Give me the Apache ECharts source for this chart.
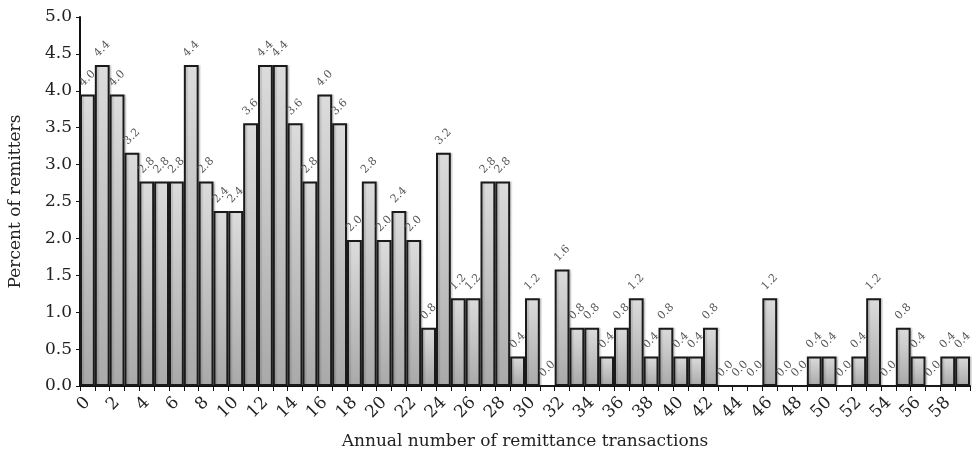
<!DOCTYPE html>
<html>
<head>
<meta charset="utf-8">
<script src="https://cdn.jsdelivr.net/npm/echarts@6/dist/echarts.min.js"></script>
<style>html,body{margin:0;padding:0;background:#fff;}#c{width:972px;height:452px;}</style>
</head>
<body>
<div id="c"></div>
<script>
var categories = ['0','1','2','3','4','5','6','7','8','9','10','11','12','13','14','15','16','17','18','19','20','21','22','23','24','25','26','27','28','29','30','31','32','33','34','35','36','37','38','39','40','41','42','43','44','45','46','47','48','49','50','51','52','53','54','55','56','57','58','59'];
var percentRemitters = [3.95,4.35,3.95,3.16,2.77,2.77,2.77,4.35,2.77,2.37,
                        2.37,3.56,4.35,4.35,3.56,2.77,3.95,3.56,1.98,2.77,
                        1.98,2.37,1.98,0.79,3.16,1.19,1.19,2.77,2.77,0.40,
                        1.19,0,1.58,0.79,0.79,0.40,0.79,1.19,0.40,0.79,
                        0.40,0.40,0.79,0,0,0,1.19,0,0,0.40,
                        0.40,0,0.40,1.19,0,0.79,0.40,0,0.40,0.40];
var yTicks = {min: 0, max: 5, interval: 0.5};
var xTitle = 'Annual number of remittance transactions';
var yTitle = 'Percent of remitters';

var FONT = 'DejaVu Serif';
function fmt1(v) { return (Math.round(v * 10 + 1e-6) / 10).toFixed(1); }
var chart = echarts.init(document.getElementById('c'));
chart.setOption({
  animation: false,
  backgroundColor: '#ffffff',
  grid: {left: 80, right: 2, top: 17, bottom: 66, containLabel: false, outerBoundsMode: 'none'},
  xAxis: {
    type: 'category',
    data: categories,
    name: xTitle,
    nameLocation: 'middle',
    nameGap: 47,
    nameTextStyle: {fontFamily: FONT, fontSize: 17, color: '#222'},
    axisLine: {lineStyle: {color: '#111', width: 2}},
    axisTick: {show: true, interval: 0, length: 5, lineStyle: {color: '#111', width: 1}},
    axisLabel: {interval: 1, rotate: 45, fontFamily: FONT, fontSize: 17, color: '#222', margin: 14}
  },
  yAxis: {
    type: 'value',
    min: yTicks.min, max: yTicks.max, interval: yTicks.interval,
    name: yTitle,
    nameLocation: 'middle',
    nameGap: 56,
    nameRotate: 90,
    nameTextStyle: {fontFamily: FONT, fontSize: 17, color: '#222'},
    splitLine: {show: false},
    axisLine: {show: true, lineStyle: {color: '#111', width: 2}},
    axisTick: {show: true, length: 4, lineStyle: {color: '#111', width: 1}},
    axisLabel: {fontFamily: FONT, fontSize: 17, color: '#222', margin: 8,
      formatter: function (v) { return v.toFixed(1); }}
  },
  series: [{
    type: 'bar',
    data: percentRemitters,
    barCategoryGap: '0%',
    itemStyle: {
      color: new echarts.graphic.LinearGradient(0, 0, 0, 1, [
        {offset: 0, color: '#dcdcdc'},
        {offset: 1, color: '#a9a9a9'}
      ]),
      borderColor: '#1a1a1a',
      borderWidth: 2,
      shadowColor: 'rgba(0,0,0,0.12)',
      shadowOffsetX: 2,
      shadowOffsetY: 0,
      shadowBlur: 1
    },
    label: {
      show: true,
      position: 'top',
      distance: 16,
      rotate: 45,
      align: 'center',
      verticalAlign: 'middle',
      fontFamily: FONT,
      fontSize: 11,
      color: '#555',
      formatter: function (p) { return fmt1(p.value); }
    }
  }]
});
</script>
</body>
</html>
